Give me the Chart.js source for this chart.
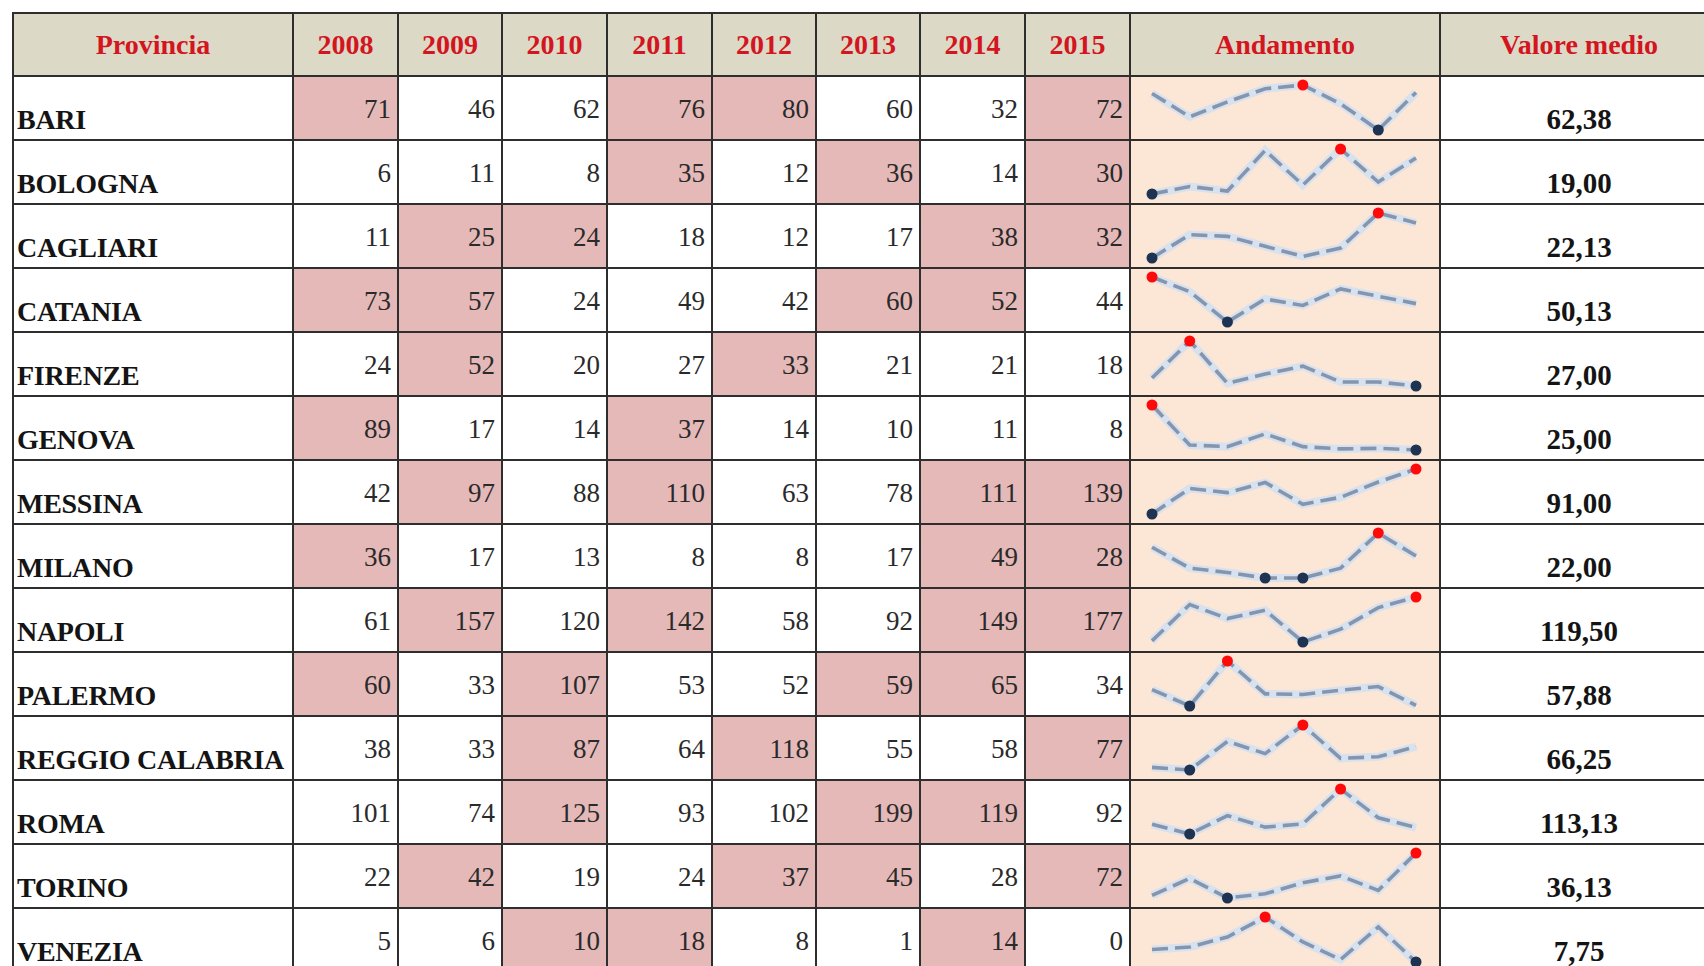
<!DOCTYPE html>
<html lang="it">
<head>
<meta charset="utf-8">
<title>Andamento per provincia 2008-2015</title>
<script src="https://cdn.jsdelivr.net/npm/chart.js@4.4.1/dist/chart.umd.min.js"></script>
<style>
  html, body { margin: 0; padding: 0; background: #ffffff; }
  body { width: 1704px; height: 966px; overflow: hidden; position: relative; }
  #tabella {
    position: absolute; left: 12px; top: 12px;
    display: grid;
    grid-template-columns: 280px 105px 104px 105px 105px 104px 104px 105px 105px 310px 278px;
    grid-template-rows: 63px repeat(14, 64px);
    border-left: 2px solid #2e2e2e; border-top: 2px solid #2e2e2e;
    font-family: "Liberation Serif", "Times New Roman", serif;
  }
  .c { box-sizing: border-box; border-right: 2px solid #2e2e2e; border-bottom: 2px solid #2e2e2e;
       position: relative; display: flex; line-height: 1; overflow: hidden; }
  .h { background: #dcd9c6; color: #d3151f; font-weight: bold; font-size: 28px;
       justify-content: center; align-items: center; }
  .nome { font-weight: bold; font-size: 28px; color: #141414; align-items: flex-end;
          padding-left: 3px; padding-bottom: 5px; white-space: nowrap; letter-spacing: -0.3px; }
  .num { font-size: 27px; color: #2a2a2a; justify-content: flex-end; align-items: center;
         padding-right: 6px; padding-top: 2px; }
  .rosa { background: #e5b9b8; }
  .trend { background: #fce6d6; }
  .trend canvas { position: absolute; left: 0; top: 0; }
  .media { font-weight: bold; font-size: 29px; color: #141414; justify-content: center;
           align-items: flex-end; padding-bottom: 5px; }
</style>
</head>
<body>
<div id="tabella"></div>
<script>
// ---- Data ----
const intestazioni = ['Provincia', 'Andamento', 'Valore medio'];
const anni = ['2008', '2009', '2010', '2011', '2012', '2013', '2014', '2015'];
const province = ['BARI', 'BOLOGNA', 'CAGLIARI', 'CATANIA', 'FIRENZE', 'GENOVA', 'MESSINA',
                  'MILANO', 'NAPOLI', 'PALERMO', 'REGGIO CALABRIA', 'ROMA', 'TORINO', 'VENEZIA'];
const bari           = [71, 46, 62, 76, 80, 60, 32, 72];
const bologna        = [6, 11, 8, 35, 12, 36, 14, 30];
const cagliari       = [11, 25, 24, 18, 12, 17, 38, 32];
const catania        = [73, 57, 24, 49, 42, 60, 52, 44];
const firenze        = [24, 52, 20, 27, 33, 21, 21, 18];
const genova         = [89, 17, 14, 37, 14, 10, 11, 8];
const messina        = [42, 97, 88, 110, 63, 78, 111, 139];
const milano         = [36, 17, 13, 8, 8, 17, 49, 28];
const napoli         = [61, 157, 120, 142, 58, 92, 149, 177];
const palermo        = [60, 33, 107, 53, 52, 59, 65, 34];
const reggioCalabria = [38, 33, 87, 64, 118, 55, 58, 77];
const roma           = [101, 74, 125, 93, 102, 199, 119, 92];
const torino         = [22, 42, 19, 24, 37, 45, 28, 72];
const venezia        = [5, 6, 10, 18, 8, 1, 14, 0];
const valoreMedio    = [62.38, 19.00, 22.13, 50.13, 27.00, 25.00, 91.00, 22.00, 119.50, 57.88, 66.25, 113.13, 36.13, 7.75];
// highlighted (pink) cells as they appear in the reference, one flag per year
const evidenziate = ['10011001', '00010101', '01100011', '11000110', '01001000', '10010000', '01010011',
                     '10000011', '01010011', '10100110', '00101001', '00100110', '01001101', '00110010'];

const valori = [bari, bologna, cagliari, catania, firenze, genova, messina,
                milano, napoli, palermo, reggioCalabria, roma, torino, venezia];

// ---- Build table ----
const tab = document.getElementById('tabella');
function cella(cls, testo) {
  const d = document.createElement('div');
  d.className = 'c ' + cls;
  if (testo !== undefined) d.textContent = testo;
  tab.appendChild(d);
  return d;
}
cella('h', intestazioni[0]);
anni.forEach(a => cella('h', a));
cella('h', intestazioni[1]);
cella('h', intestazioni[2]);

const sparkCells = [];
province.forEach((p, r) => {
  cella('nome', p);
  valori[r].forEach((v, i) => {
    cella('num' + (evidenziate[r][i] === '1' ? ' rosa' : ''), String(v));
  });
  sparkCells.push(cella('trend'));
  cella('media', valoreMedio[r].toFixed(2).replace('.', ','));
});

// ---- Sparklines with Chart.js ----
sparkCells.forEach((cell, r) => {
  const dati = valori[r];
  const mx = Math.max(...dati), mn = Math.min(...dati);
  const cv = document.createElement('canvas');
  cv.width = 308; cv.height = 62;
  cv.style.width = '308px'; cv.style.height = '62px';
  cell.appendChild(cv);
  const raggi = dati.map(v => (v === mx || v === mn) ? 5.5 : 0);
  const colori = dati.map(v => v === mx ? '#ff0a0a' : '#1e3352');
  new Chart(cv, {
    type: 'line',
    data: {
      labels: anni,
      datasets: [
        { data: dati, borderColor: '#d8e2ef', borderWidth: 8, pointRadius: 0,
          tension: 0, fill: false, clip: false, order: 2 },
        { data: dati, borderColor: '#8595ad', borderWidth: 3.6, borderDash: [16, 7],
          pointRadius: raggi, pointBackgroundColor: colori, pointBorderWidth: 0,
          pointHoverRadius: raggi, tension: 0, fill: false, clip: false, order: 1 }
      ]
    },
    options: {
      responsive: false, animation: false, devicePixelRatio: 1,
      layout: { padding: { left: 21, right: 23, top: 8, bottom: 9 } },
      plugins: { legend: { display: false }, tooltip: { enabled: false } },
      events: [],
      scales: {
        x: { type: 'category', display: false, offset: false },
        y: { type: 'linear', display: false, min: mn, max: mx }
      }
    }
  });
});
</script>
</body>
</html>
